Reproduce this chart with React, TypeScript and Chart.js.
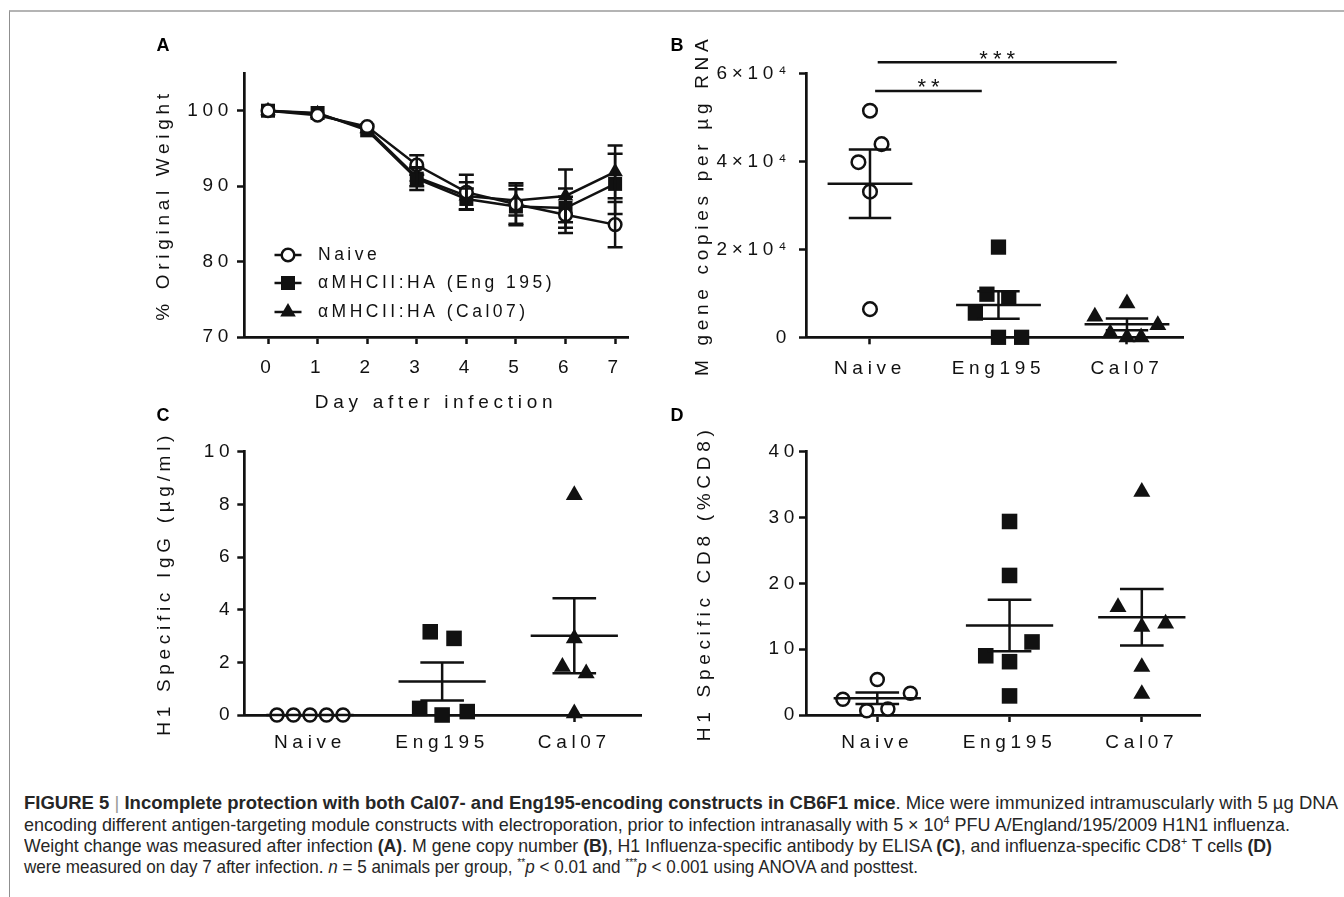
import React, { useEffect, useLayoutEffect, useRef } from 'react';
import { Chart, registerables } from 'chart.js';

Chart.register(...registerables);

const FONT = '"Liberation Sans", Arial, Helvetica, sans-serif';
const INK = '#111111';
const LETTER_SPACING = '4.7px';

// ---------------- Panel A: weight change ----------------
const days = [0, 1, 2, 3, 4, 5, 6, 7];
const weightTicks = [70, 80, 90, 100];
const weightNaive = [100, 99.4, 97.9, 92.8, 89.2, 87.6, 86.2, 84.9];
const weightNaiveSem = [0, 0, 0, 1.3, 2.3, 2.8, 2.4, 3.0];
const weightEng = [100, 99.7, 97.4, 91.0, 88.3, 87.3, 87.1, 90.3];
const weightEngSem = [0, 0, 0, 1.5, 1.4, 2.3, 2.6, 4.0];
const weightCal = [100, 99.6, 97.6, 91.2, 88.7, 88.1, 88.7, 91.9];
const weightCalSem = [0, 0, 0, 1.2, 1.8, 2.0, 3.5, 3.5];
const legendLabels = ['Naive', 'αMHCII:HA (Eng 195)', 'αMHCII:HA (Cal07)'];

// ---------------- shared groups ----------------
const groups = ['Naive', 'Eng195', 'Cal07'];
const groupTicks = [0, 1, 2];

// ---------------- Panel B: M gene copies ----------------
const mgeneTicks = [0, 20000, 40000, 60000];
const mgeneTickLabels = ['0', '2×10⁴', '4×10⁴', '6×10⁴'];
const mgeneNaive = [51500, 43900, 39800, 33100, 6400];
const mgeneNaiveJitter = [0, 0.09, -0.09, 0, 0];
const mgeneEng = [20500, 9800, 8900, 5500, 0, 0];
const mgeneEngJitter = [0, -0.09, 0.08, -0.18, 0, 0.18];
const mgeneCal = [7700, 4700, 2800, 900, 0, 0];
const mgeneCalJitter = [0, -0.25, 0.24, -0.13, 0, 0.11];
const mgeneMean = [34900, 7340, 2950];
const mgeneSem = [7800, 3100, 1320];
const sigFrom = [0.04, 0.06];
const sigTo = [0.87, 1.92];
const sigLevel = [56000, 62500];
const sigLabel = ['**', '***'];

// ---------------- Panel C: H1 specific IgG ----------------
const iggTicks = [0, 2, 4, 6, 8, 10];
const iggNaive = [0, 0, 0, 0, 0];
const iggNaiveJitter = [-0.25, -0.125, 0, 0.125, 0.25];
const iggEng = [3.16, 2.91, 0.25, 0.13, 0];
const iggEngJitter = [-0.09, 0.09, -0.17, 0.19, 0];
const iggCal = [8.35, 2.91, 1.83, 1.58, 0.06];
const iggCalJitter = [0, 0, -0.09, 0.09, 0];
const iggMean = [0, 1.27, 3.01];
const iggSem = [0, 0.72, 1.42];

// ---------------- Panel D: H1 specific CD8 ----------------
const cd8Ticks = [0, 10, 20, 30, 40];
const cd8Naive = [5.4, 3.3, 2.4, 0.9, 0.65];
const cd8NaiveJitter = [0, 0.25, -0.26, 0.08, -0.08];
const cd8Eng = [29.4, 21.2, 11.1, 9.0, 8.1, 2.9];
const cd8EngJitter = [0, 0, 0.17, -0.18, 0, 0];
const cd8Cal = [33.9, 16.4, 13.9, 13.4, 7.3, 3.2];
const cd8CalJitter = [0, -0.18, 0.18, 0, 0, 0];
const cd8Mean = [2.54, 13.6, 14.85];
const cd8Sem = [0.86, 3.9, 4.3];

const CAPTION_WIDTHS = [1314, 1266, 1248, 894];

// ---------------- helpers ----------------
type Pt = { x: number; y: number };
const groupPoints = (vals: number[], jitter: number[], g: number): Pt[] =>
  vals.map((v, i) => ({ x: g + jitter[i], y: v }));

const MEAN_HALF = 0.33;
const CAP_HALF = 0.165;

const spacingPlugin = {
  id: 'spacing',
  beforeLayout(chart: any) {
    chart.ctx.letterSpacing = LETTER_SPACING;
  },
  beforeDraw(chart: any) {
    chart.ctx.letterSpacing = LETTER_SPACING;
  },
};

const axisLook = () => ({
  border: { display: true, color: INK, width: 2.7 },
  grid: {
    display: true,
    drawOnChartArea: false,
    drawTicks: true,
    tickLength: 7,
    tickWidth: 2.5,
    tickColor: INK,
    color: INK,
  },
});

function markerProps(kind: string, size: number) {
  if (kind === 'circle') {
    return {
      pointStyle: 'circle',
      pointRadius: size,
      pointHoverRadius: size,
      pointBackgroundColor: '#ffffff',
      pointBorderColor: INK,
      pointBorderWidth: 2.5,
    };
  }
  return {
    pointStyle: kind,
    pointRadius: size,
    pointHoverRadius: size,
    pointBackgroundColor: INK,
    pointBorderColor: INK,
    pointBorderWidth: 0,
  };
}

function errorBarPlugin(sems: number[][]) {
  return {
    id: 'errorBars',
    afterDatasetsDraw(chart: any) {
      const { ctx } = chart;
      const ys = chart.scales.y;
      ctx.save();
      ctx.strokeStyle = INK;
      ctx.lineWidth = 2.5;
      chart.data.datasets.forEach((ds: any, di: number) => {
        const meta = chart.getDatasetMeta(di);
        ds.data.forEach((p: Pt, i: number) => {
          const e = sems[di][i];
          if (!e) return;
          const px = meta.data[i].x;
          const top = ys.getPixelForValue(p.y + e);
          const bot = ys.getPixelForValue(p.y - e);
          ctx.beginPath();
          ctx.moveTo(px, top);
          ctx.lineTo(px, bot);
          ctx.moveTo(px - 7.5, top);
          ctx.lineTo(px + 7.5, top);
          ctx.moveTo(px - 7.5, bot);
          ctx.lineTo(px + 7.5, bot);
          ctx.stroke();
        });
      });
      ctx.restore();
    },
  };
}

function legendPlugin() {
  const rows = [82, 54, 25];
  const kinds = ['circle', 'rect', 'triangle'];
  return {
    id: 'insideLegend',
    afterDraw(chart: any) {
      const { ctx, chartArea } = chart;
      ctx.save();
      ctx.letterSpacing = '3.5px';
      ctx.font = `17.5px ${FONT}`;
      ctx.fillStyle = INK;
      ctx.strokeStyle = INK;
      ctx.textAlign = 'left';
      ctx.textBaseline = 'middle';
      rows.forEach((dy, i) => {
        const y = chartArea.bottom - dy;
        const cx = chartArea.left + 44;
        ctx.lineWidth = 2.5;
        ctx.beginPath();
        ctx.moveTo(cx - 13.5, y);
        ctx.lineTo(cx + 13.5, y);
        ctx.stroke();
        if (kinds[i] === 'circle') {
          ctx.beginPath();
          ctx.arc(cx, y, 6.3, 0, Math.PI * 2);
          ctx.fillStyle = '#ffffff';
          ctx.fill();
          ctx.stroke();
          ctx.fillStyle = INK;
        } else if (kinds[i] === 'rect') {
          ctx.fillRect(cx - 7, y - 7, 14, 14);
        } else {
          ctx.beginPath();
          ctx.moveTo(cx, y - 9);
          ctx.lineTo(cx + 7.8, y + 4.5);
          ctx.lineTo(cx - 7.8, y + 4.5);
          ctx.closePath();
          ctx.fill();
        }
        ctx.fillText(legendLabels[i], chartArea.left + 74, y);
      });
      ctx.restore();
    },
  };
}

function meanSemPlugin(means: number[], sems: number[]) {
  return {
    id: 'meanSem',
    afterDatasetsDraw(chart: any) {
      const { ctx } = chart;
      const xs = chart.scales.x;
      const ys = chart.scales.y;
      ctx.save();
      ctx.strokeStyle = INK;
      ctx.lineWidth = 2.5;
      means.forEach((m, g) => {
        const ym = ys.getPixelForValue(m);
        ctx.beginPath();
        ctx.moveTo(xs.getPixelForValue(g - MEAN_HALF), ym);
        ctx.lineTo(xs.getPixelForValue(g + MEAN_HALF), ym);
        if (sems[g] > 0) {
          const yt = ys.getPixelForValue(m + sems[g]);
          const yb = ys.getPixelForValue(m - sems[g]);
          const xc = xs.getPixelForValue(g);
          const xl = xs.getPixelForValue(g - CAP_HALF);
          const xr = xs.getPixelForValue(g + CAP_HALF);
          ctx.moveTo(xc, yt);
          ctx.lineTo(xc, yb);
          ctx.moveTo(xl, yt);
          ctx.lineTo(xr, yt);
          ctx.moveTo(xl, yb);
          ctx.lineTo(xr, yb);
        }
        ctx.stroke();
      });
      ctx.restore();
    },
  };
}

function significancePlugin() {
  return {
    id: 'significance',
    afterDraw(chart: any) {
      const { ctx } = chart;
      const xs = chart.scales.x;
      const ys = chart.scales.y;
      ctx.save();
      ctx.strokeStyle = INK;
      ctx.fillStyle = INK;
      ctx.lineWidth = 2.5;
      ctx.letterSpacing = '5px';
      ctx.font = `22px ${FONT}`;
      ctx.textAlign = 'center';
      ctx.textBaseline = 'alphabetic';
      sigLevel.forEach((lvl, i) => {
        const y = ys.getPixelForValue(lvl);
        const x1 = xs.getPixelForValue(sigFrom[i]);
        const x2 = xs.getPixelForValue(sigTo[i]);
        ctx.beginPath();
        ctx.moveTo(x1, y);
        ctx.lineTo(x2, y);
        ctx.stroke();
        ctx.fillText(sigLabel[i], (x1 + x2) / 2 + 2.5, y + 3.5);
      });
      ctx.restore();
    },
  };
}

type Layout = {
  padding: { left: number; top: number; right: number; bottom: number };
  yWidth: number;
  xHeight: number;
  yTitlePad: number;
  yTickPad: number;
  xTickPad: number;
  xTitlePad?: number;
};

function yScale(min: number, max: number, ticks: number[], labels: string[], title: string, L: Layout) {
  return {
    type: 'linear',
    min,
    max,
    afterBuildTicks: (s: any) => {
      s.ticks = ticks.map((value) => ({ value }));
    },
    afterFit: (s: any) => {
      s.width = L.yWidth;
    },
    ticks: {
      color: INK,
      font: { family: FONT, size: 19 },
      padding: L.yTickPad,
      autoSkip: false,
      callback: (v: number) => labels[ticks.indexOf(v)],
    },
    title: {
      display: true,
      text: title,
      color: INK,
      font: { family: FONT, size: 19 },
      padding: { top: L.yTitlePad, bottom: 0 },
    },
    ...axisLook(),
  };
}

function xScale(min: number, max: number, ticks: number[], labels: string[], L: Layout, title?: string) {
  return {
    type: 'linear',
    min,
    max,
    afterBuildTicks: (s: any) => {
      s.ticks = ticks.map((value) => ({ value }));
    },
    afterFit: (s: any) => {
      s.height = L.xHeight;
    },
    ticks: {
      color: INK,
      font: { family: FONT, size: 19 },
      padding: L.xTickPad,
      maxRotation: 0,
      autoSkip: false,
      callback: (v: number) => labels[ticks.indexOf(v)],
    },
    title: title
      ? {
          display: true,
          text: title,
          color: INK,
          font: { family: FONT, size: 19 },
          padding: { top: 0, bottom: L.xTitlePad || 0 },
        }
      : { display: false },
    ...axisLook(),
  };
}

function baseOptions(L: Layout, scales: any) {
  return {
    responsive: false,
    maintainAspectRatio: false,
    animation: false,
    devicePixelRatio: 1,
    events: [],
    layout: { padding: L.padding },
    plugins: { legend: { display: false }, tooltip: { enabled: false } },
    scales,
  };
}

// ---------------- chart configs ----------------
function buildWeight() {
  const L: Layout = {
    padding: { left: 0, top: 33, right: 12, bottom: 0 },
    yWidth: 104,
    xHeight: 83,
    yTitlePad: 12.6,
    yTickPad: 4,
    xTickPad: 12.6,
    xTitlePad: 5.6,
  };
  const series = [
    { vals: weightNaive, kind: 'circle', size: 6.3 },
    { vals: weightEng, kind: 'rect', size: 9.9 },
    { vals: weightCal, kind: 'triangle', size: 9 },
  ];
  return {
    type: 'line',
    data: {
      datasets: series.map((s, i) => ({
        label: legendLabels[i],
        data: days.map((d, j) => ({ x: d, y: s.vals[j] })),
        borderColor: INK,
        borderWidth: 2.5,
        tension: 0,
        clip: false,
        ...markerProps(s.kind, s.size),
      })),
    },
    options: baseOptions(L, {
      x: xScale(-0.484, 7.26, days, days.map(String), L, 'Day after infection'),
      y: yScale(70, 105, weightTicks, weightTicks.map(String), '% Original Weight', L),
    }),
    plugins: [spacingPlugin, errorBarPlugin([weightNaiveSem, weightEngSem, weightCalSem]), legendPlugin()],
  };
}

function buildScatter(
  sets: { pts: Pt[]; kind: string; size: number }[],
  means: number[],
  sems: number[],
  yMax: number,
  yTicks: number[],
  yLabels: string[],
  yTitle: string,
  xMin: number,
  xMax: number,
  L: Layout,
  extra: any[] = []
) {
  return {
    type: 'scatter',
    data: {
      datasets: sets.map((s, i) => ({
        label: groups[i],
        data: s.pts,
        clip: false,
        ...markerProps(s.kind, s.size),
      })),
    },
    options: baseOptions(L, {
      x: xScale(xMin, xMax, groupTicks, groups, L),
      y: yScale(0, yMax, yTicks, yLabels, yTitle, L),
    }),
    plugins: [spacingPlugin, meanSemPlugin(means, sems), ...extra],
  };
}

function buildMgene() {
  const L: Layout = {
    padding: { left: 0, top: 53.3, right: 17, bottom: 0 },
    yWidth: 146,
    xHeight: 62.7,
    yTitlePad: 31.6,
    yTickPad: 8,
    xTickPad: 12.6,
  };
  return buildScatter(
    [
      { pts: groupPoints(mgeneNaive, mgeneNaiveJitter, 0), kind: 'circle', size: 6.8 },
      { pts: groupPoints(mgeneEng, mgeneEngJitter, 1), kind: 'rect', size: 10.8 },
      { pts: groupPoints(mgeneCal, mgeneCalJitter, 2), kind: 'triangle', size: 9.8 },
    ],
    mgeneMean,
    mgeneSem,
    60000,
    mgeneTicks,
    mgeneTickLabels,
    'M gene copies per µg RNA',
    -0.498,
    2.436,
    L,
    [significancePlugin()]
  );
}

function buildIgg() {
  const L: Layout = {
    padding: { left: 0, top: 46.7, right: 18.3, bottom: 0 },
    yWidth: 104.3,
    xHeight: 55,
    yTitlePad: 13.6,
    yTickPad: 3,
    xTickPad: 9.6,
  };
  return buildScatter(
    [
      { pts: groupPoints(iggNaive, iggNaiveJitter, 0), kind: 'circle', size: 6.5 },
      { pts: groupPoints(iggEng, iggEngJitter, 1), kind: 'rect', size: 11 },
      { pts: groupPoints(iggCal, iggCalJitter, 2), kind: 'triangle', size: 9.8 },
    ],
    iggMean,
    iggSem,
    10,
    iggTicks,
    iggTicks.map(String),
    'H1 Specific IgG (µg/ml)',
    -0.497,
    2.51,
    L
  );
}

function buildCd8() {
  const L: Layout = {
    padding: { left: 0, top: 46.7, right: 20, bottom: 0 },
    yWidth: 126,
    xHeight: 55,
    yTitlePad: 13.6,
    yTickPad: 0,
    xTickPad: 9.6,
  };
  return buildScatter(
    [
      { pts: groupPoints(cd8Naive, cd8NaiveJitter, 0), kind: 'circle', size: 6.5 },
      { pts: groupPoints(cd8Eng, cd8EngJitter, 1), kind: 'rect', size: 11 },
      { pts: groupPoints(cd8Cal, cd8CalJitter, 2), kind: 'triangle', size: 9.8 },
    ],
    cd8Mean,
    cd8Sem,
    40,
    cd8Ticks,
    cd8Ticks.map(String),
    'H1 Specific CD8 (%CD8)',
    -0.539,
    2.44,
    L
  );
}

// ---------------- components ----------------
function ChartCanvas(props: { left: number; top: number; width: number; height: number; build: () => any }) {
  const ref = useRef<HTMLCanvasElement | null>(null);
  useEffect(() => {
    if (!ref.current) return;
    const chart = new Chart(ref.current, props.build());
    return () => chart.destroy();
  }, []);
  return (
    <canvas
      ref={ref}
      width={props.width}
      height={props.height}
      style={{ position: 'absolute', left: props.left, top: props.top, width: props.width, height: props.height }}
    />
  );
}

const supStyle: React.CSSProperties = { fontSize: '0.6em', verticalAlign: 'super', lineHeight: 0 };

function Caption() {
  const refs = useRef<Array<HTMLSpanElement | null>>([]);
  useLayoutEffect(() => {
    const fit = () => {
      refs.current.forEach((el, i) => {
        if (!el) return;
        el.style.transform = 'none';
        const w = el.getBoundingClientRect().width;
        if (w > 0) el.style.transform = `scaleX(${CAPTION_WIDTHS[i] / w})`;
      });
    };
    fit();
    const fonts = (document as any).fonts;
    if (fonts && fonts.ready) fonts.ready.then(fit);
  }, []);
  const lines = [
    <>
      <b>FIGURE 5</b> <span style={{ color: '#9a9a9a' }}>|</span>{' '}
      <b>Incomplete protection with both Cal07- and Eng195-encoding constructs in CB6F1 mice</b>. Mice were
      immunized intramuscularly with 5 µg DNA
    </>,
    <>
      encoding different antigen-targeting module constructs with electroporation, prior to infection intranasally with
      5 × 10<sup style={supStyle}>4</sup> PFU A/England/195/2009 H1N1 influenza.
    </>,
    <>
      Weight change was measured after infection <b>(A)</b>. M gene copy number <b>(B)</b>, H1 Influenza-specific
      antibody by ELISA <b>(C)</b>, and influenza-specific CD8<sup style={supStyle}>+</sup> T cells <b>(D)</b>
    </>,
    <>
      were measured on day 7 after infection. <i>n</i> = 5 animals per group, <sup style={supStyle}>**</sup>
      <i>p</i> &lt; 0.01 and <sup style={supStyle}>***</sup>
      <i>p</i> &lt; 0.001 using ANOVA and posttest.
    </>,
  ];
  return (
    <div
      style={{
        position: 'absolute',
        left: 24,
        top: 792.4,
        fontFamily: FONT,
        fontSize: 18.5,
        color: '#262626',
        lineHeight: '21.3px',
      }}
    >
      {lines.map((l, i) => (
        <div key={i} style={{ height: 21.3, whiteSpace: 'nowrap' }}>
          <span
            ref={(el) => {
              refs.current[i] = el;
            }}
            style={{ display: 'inline-block', transformOrigin: '0 50%', whiteSpace: 'nowrap' }}
          >
            {l}
          </span>
        </div>
      ))}
    </div>
  );
}

function PanelLabel(props: { text: string; x: number; y: number }) {
  return (
    <div
      style={{
        position: 'absolute',
        left: props.x,
        top: props.y,
        transform: 'translate(-50%, -50%)',
        fontFamily: FONT,
        fontWeight: 'bold',
        fontSize: 18,
        color: '#000',
        lineHeight: 1,
      }}
    >
      {props.text}
    </div>
  );
}

export default function App() {
  return (
    <div
      style={{
        position: 'absolute',
        left: 0,
        top: 0,
        width: 1344,
        height: 897,
        background: '#ffffff',
        overflow: 'hidden',
      }}
    >
      <div
        style={{
          position: 'absolute',
          left: 9,
          top: 10,
          width: 1335,
          height: 887,
          boxSizing: 'border-box',
          borderTop: '2px solid #b4b4b4',
          borderLeft: '1px solid #8f8f8f',
        }}
      />
      <ChartCanvas left={140} top={40} width={500} height={380} build={buildWeight} />
      <ChartCanvas left={660} top={20} width={540} height={380} build={buildMgene} />
      <ChartCanvas left={140} top={405} width={520} height={365} build={buildIgg} />
      <ChartCanvas left={680} top={405} width={540} height={365} build={buildCd8} />
      <PanelLabel text="A" x={163} y={45} />
      <PanelLabel text="B" x={677} y={44.5} />
      <PanelLabel text="C" x={163} y={415} />
      <PanelLabel text="D" x={677} y={415} />
      <Caption />
    </div>
  );
}
